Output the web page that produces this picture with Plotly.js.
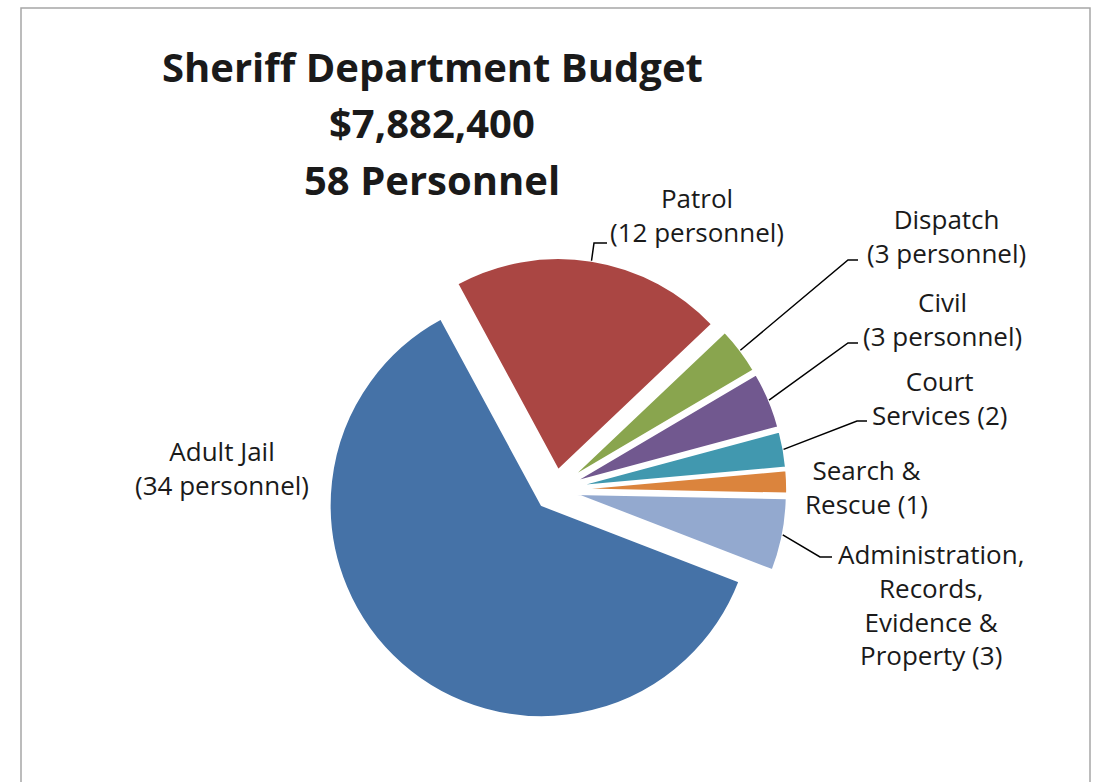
<!DOCTYPE html>
<html>
<head>
<meta charset="utf-8">
<script src="https://cdn.plot.ly/plotly-3.0.1.min.js"></script>
<style>html,body{margin:0;padding:0;background:#fff;}#chart{width:1102px;height:782px;}</style>
</head>
<body>
<div id="chart"></div>
<script>
// ---- data ----
const categories = ['Patrol', 'Dispatch', 'Civil', 'Court Services', 'Search & Rescue',
  'Administration, Records, Evidence & Property', 'Adult Jail'];
const budget = [1640000, 284000, 339000, 217000, 138000, 437000, 4827400];
const personnel = [12, 3, 3, 2, 1, 3, 34];
const labelText = [
  'Patrol<br>(12 personnel)',
  'Dispatch<br>(3 personnel)',
  'Civil<br>(3 personnel)',
  'Court<br>Services (2)',
  'Search &<br>Rescue (1)',
  'Administration,<br>Records,<br>Evidence &<br>Property (3)',
  'Adult Jail<br>(34 personnel)'
];
const titleLines = ['Sheriff Department Budget', '$7,882,400', '58 Personnel'];
const colors = ['#AA4643', '#89A54E', '#71588F', '#4198AF', '#DB843D', '#93A9CF', '#4572A7'];

// ---- layout geometry (pixels) ----
const W = 1102, H = 782;
const CX = 555, CY = 490, R = 212, PULL = 0.095, ROT = -28.4;
const RMAX = R * (1 + PULL);
const px = x => x / W, py = y => 1 - y / H;

// label placement (centre of text block) and leader-line elbows
const labelPos = [[697, 215], [946, 236], [942, 319], [939, 398], [866, 487], [931, 604], [222, 468]];
const elbows = [[[594, 243], [607, 243]], [[848, 260], [858, 260]], [[848, 343], [858, 343]],
  [[857, 421], [867, 421]], null, [[820, 557], [832, 557]], null];

const total = budget.reduce((a, b) => a + b, 0);
function anchor(i) {
  let cum = 0;
  for (let k = 0; k < i; k++) cum += budget[k];
  const mid = (ROT + 360 * (cum + budget[i] / 2) / total) * Math.PI / 180;
  return [CX + RMAX * Math.sin(mid), CY - RMAX * Math.cos(mid)];
}

const trace = {
  type: 'pie',
  labels: categories,
  values: budget,
  customdata: personnel,
  sort: false,
  direction: 'clockwise',
  rotation: ROT,
  pull: categories.map(() => PULL),
  textinfo: 'none',
  hoverinfo: 'label+value',
  marker: {colors: colors, line: {color: '#ffffff', width: 2}},
  domain: {x: [px(CX - RMAX), px(CX + RMAX)], y: [py(CY + RMAX), py(CY - RMAX)]},
  showlegend: false
};

const font = {family: '"Open Sans", Lato, sans-serif', size: 26, color: '#1a1a1a'};
const annotations = [];
labelText.forEach((t, i) => {
  annotations.push({xref: 'paper', yref: 'paper', x: px(labelPos[i][0]), y: py(labelPos[i][1]),
    xanchor: 'center', yanchor: 'middle', align: 'center', showarrow: false, text: t, font: font});
});
const titleY = [67, 122, 180];
titleLines.forEach((t, i) => {
  annotations.push({xref: 'paper', yref: 'paper', x: px(432), y: py(titleY[i]),
    xanchor: 'center', yanchor: 'middle', showarrow: false, text: '<b>' + t + '</b>',
    font: {family: '"Open Sans", Lato, sans-serif', size: 40, color: '#1a1a1a'}});
});

const shapes = [{type: 'rect', xref: 'paper', yref: 'paper', x0: px(21), x1: px(1090), y0: -0.1, y1: py(8),
  line: {color: '#A6A6A6', width: 1.5}, fillcolor: 'rgba(0,0,0,0)'}];
elbows.forEach((e, i) => {
  if (!e) return;
  const a = anchor(i);
  shapes.push({type: 'path', xref: 'paper', yref: 'paper',
    path: `M ${px(a[0])} ${py(a[1])} L ${px(e[0][0])} ${py(e[0][1])} L ${px(e[1][0])} ${py(e[1][1])}`,
    line: {color: '#000000', width: 1.5}});
});

const layout = {
  width: W, height: H,
  margin: {l: 0, r: 0, t: 0, b: 0},
  paper_bgcolor: '#ffffff',
  annotations: annotations,
  shapes: shapes,
  showlegend: false
};
Plotly.newPlot('chart', [trace], layout, {displayModeBar: false, staticPlot: true});
</script>
</body>
</html>
